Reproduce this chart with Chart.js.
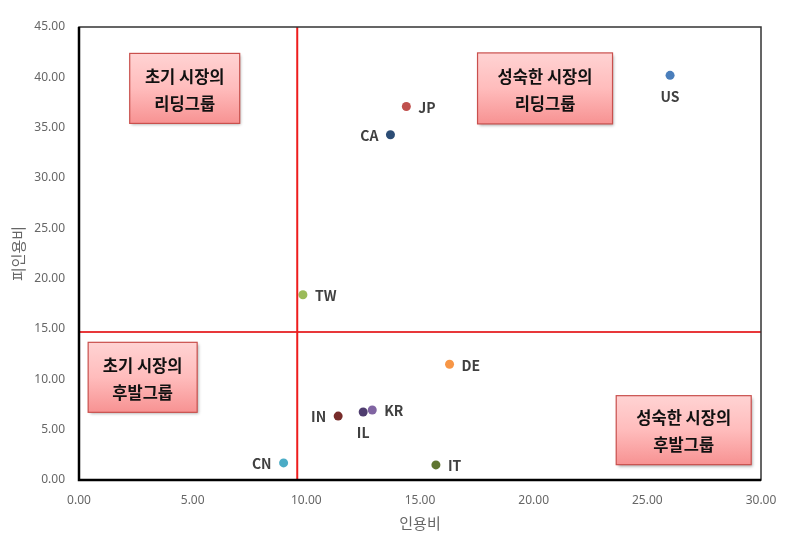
<!DOCTYPE html>
<html>
<head>
<meta charset="utf-8">
<script src="https://cdn.jsdelivr.net/npm/chart.js@4/dist/chart.umd.min.js"></script>
<style>
    html, body { margin: 0; padding: 0; background: #fff; }
    #wrap { width: 802px; height: 541px; }
</style>
</head>
<body>
<div id="wrap"><canvas id="chart"></canvas></div>
<script>
// country codes and their values (x = 인용비, y = 피인용비)
const countries = ['US', 'JP', 'CA', 'TW', 'DE', 'KR', 'IL', 'IN', 'CN', 'IT'];
const citeRatio = [26.0, 14.4, 13.7, 9.85, 16.3, 12.9, 12.5, 11.4, 9.0, 15.7];
const citedRatio = [40.2, 37.1, 34.3, 18.4, 11.5, 6.95, 6.75, 6.35, 1.7, 1.5];
const pointColors = ['#4a7ebb', '#c0504d', '#2c4d75', '#9bbb59', '#f79646', '#8064a2', '#4f3d6f', '#772c2a', '#4bacc6', '#5f7530'];
const labelSide = ['below', 'right', 'left', 'right', 'right', 'right', 'below', 'left', 'left', 'right'];

// quadrant split values
const splitX = 9.6;
const splitY = 14.7;

// axis ticks
const xTicks = [0, 5, 10, 15, 20, 25, 30];
const yTicks = [0, 5, 10, 15, 20, 25, 30, 35, 40, 45];

// quadrant notes, anchored on data coordinates
const notes = [
    { lines: ['초기 시장의', '리딩그룹'], x: 4.65, y: 38.9, w: 110, h: 70 },
    { lines: ['성숙한 시장의', '리딩그룹'], x: 20.5, y: 38.9, w: 135, h: 71 },
    { lines: ['초기 시장의', '후발그룹'], x: 2.8, y: 10.2, w: 109, h: 70 },
    { lines: ['성숙한 시장의', '후발그룹'], x: 26.6, y: 4.95, w: 135, h: 69 }
];

const KFONT = '"Noto Sans CJK KR", "Noto Sans", sans-serif';

// Plot frame
const framePlugin = {
    id: 'frame',
    afterDatasetsDraw(chart) {
        const { ctx, chartArea: a } = chart;
        ctx.save();
        ctx.strokeStyle = '#333';
        ctx.lineWidth = 1.5;
        ctx.strokeRect(a.left, a.top, a.right - a.left, a.bottom - a.top);
        ctx.strokeStyle = '#000';
        ctx.lineWidth = 2.5;
        ctx.beginPath();
        ctx.moveTo(a.left, a.top);
        ctx.lineTo(a.left, a.bottom);
        ctx.lineTo(a.right, a.bottom);
        ctx.stroke();
        ctx.restore();
    }
};

// Country labels next to the points
const labelPlugin = {
    id: 'pointLabels',
    afterDatasetsDraw(chart) {
        const { ctx } = chart;
        const meta = chart.getDatasetMeta(2);
        ctx.save();
        ctx.font = 'bold 14px ' + KFONT;
        ctx.fillStyle = '#404040';
        meta.data.forEach((pt, i) => {
            const side = labelSide[i];
            if (side === 'right') {
                ctx.textAlign = 'left';
                ctx.textBaseline = 'middle';
                ctx.fillText(countries[i], pt.x + 12, pt.y + 1);
            } else if (side === 'left') {
                ctx.textAlign = 'right';
                ctx.textBaseline = 'middle';
                ctx.fillText(countries[i], pt.x - 12, pt.y + 1);
            } else {
                ctx.textAlign = 'center';
                ctx.textBaseline = 'middle';
                ctx.fillText(countries[i], pt.x, pt.y + 21);
            }
        });
        ctx.restore();
    }
};

// Pink quadrant boxes
const notesPlugin = {
    id: 'notes',
    afterDatasetsDraw(chart) {
        const { ctx, scales } = chart;
        ctx.save();
        notes.forEach(n => {
            const cx = scales.x.getPixelForValue(n.x);
            const cy = scales.y.getPixelForValue(n.y);
            const l = cx - n.w / 2, t = cy - n.h / 2;
            ctx.save();
            ctx.shadowColor = 'rgba(0,0,0,0.35)';
            ctx.shadowBlur = 3;
            ctx.shadowOffsetX = 1.5;
            ctx.shadowOffsetY = 2;
            const g = ctx.createLinearGradient(0, t, 0, t + n.h);
            g.addColorStop(0, '#ffd3d3');
            g.addColorStop(0.5, '#ffbcbc');
            g.addColorStop(1, '#f79292');
            ctx.fillStyle = g;
            ctx.fillRect(l, t, n.w, n.h);
            ctx.restore();
            ctx.strokeStyle = '#c9504d';
            ctx.lineWidth = 1.2;
            ctx.strokeRect(l, t, n.w, n.h);
            ctx.font = 'bold 16.5px ' + KFONT;
            ctx.fillStyle = '#111';
            ctx.textAlign = 'center';
            ctx.textBaseline = 'middle';
            ctx.fillText(n.lines[0], cx, cy - 12);
            ctx.fillText(n.lines[1], cx, cy + 15);
        });
        ctx.restore();
    }
};

function buildData() {
    return {
        datasets: [
            {
                type: 'line',
                data: [{ x: splitX, y: yTicks[0] }, { x: splitX, y: yTicks[yTicks.length - 1] }],
                borderColor: '#ee1c1c',
                borderWidth: 2,
                pointRadius: 0,
                showLine: true,
                fill: false
            },
            {
                type: 'line',
                data: [{ x: xTicks[0], y: splitY }, { x: xTicks[xTicks.length - 1], y: splitY }],
                borderColor: '#e8383a',
                borderWidth: 2,
                pointRadius: 0,
                showLine: true,
                fill: false
            },
            {
                type: 'scatter',
                data: countries.map((c, i) => ({ x: citeRatio[i], y: citedRatio[i] })),
                backgroundColor: pointColors,
                borderWidth: 0,
                pointRadius: 4.5,
                pointHoverRadius: 4.5
            }
        ]
    };
}

document.addEventListener('DOMContentLoaded', () => {
    const ctx = document.getElementById('chart').getContext('2d');
    new Chart(ctx, {
        type: 'scatter',
        data: buildData(),
        options: {
            responsive: true,
            maintainAspectRatio: false,
            animation: false,
            layout: { padding: { left: 0, right: 41, top: 27, bottom: 0 } },
            plugins: { legend: { display: false }, tooltip: { enabled: false } },
            scales: {
                x: {
                    type: 'linear',
                    min: xTicks[0],
                    max: xTicks[xTicks.length - 1],
                    grid: { display: false },
                    border: { display: false },
                    afterBuildTicks: s => { s.ticks = xTicks.map(v => ({ value: v })); },
                    afterFit: s => { s.height = 61; },
                    ticks: {
                        padding: 5,
                        color: '#666',
                        font: { size: 12, family: '"Noto Sans", sans-serif' },
                        callback: v => Number(v).toFixed(2)
                    },
                    title: {
                        display: true,
                        text: '인용비',
                        color: '#666',
                        padding: { top: 0, bottom: 9 },
                        font: { size: 15, family: KFONT }
                    }
                },
                y: {
                    type: 'linear',
                    min: yTicks[0],
                    max: yTicks[yTicks.length - 1],
                    grid: { display: false },
                    border: { display: false },
                    afterBuildTicks: s => { s.ticks = yTicks.map(v => ({ value: v })); },
                    afterFit: s => { s.width = 79; },
                    ticks: {
                        padding: 6,
                        color: '#666',
                        font: { size: 12, family: '"Noto Sans", sans-serif' },
                        callback: v => Number(v).toFixed(2)
                    },
                    title: {
                        display: true,
                        text: '피인용비',
                        color: '#666',
                        padding: { top: 9, bottom: 0 },
                        font: { size: 15, family: KFONT }
                    }
                }
            }
        },
        plugins: [framePlugin, notesPlugin, labelPlugin]
    });
});
</script>
</body>
</html>
